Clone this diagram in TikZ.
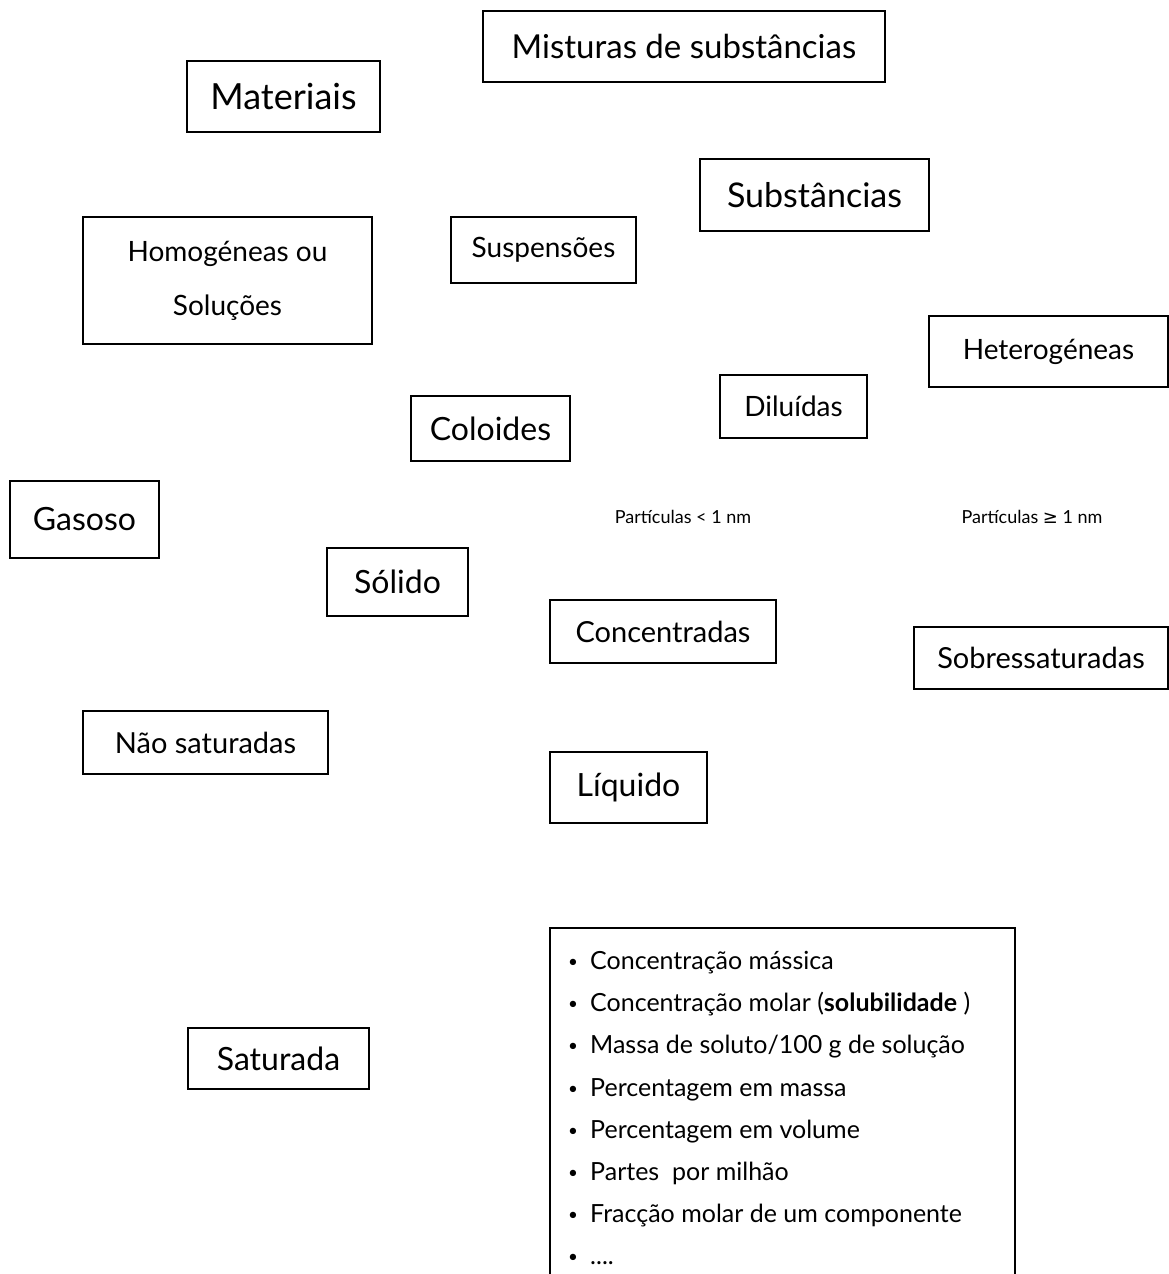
\documentclass[tikz,border=0pt]{standalone}
\usepackage{fontspec}
\setmainfont{Lato}
\newfontfamily\symfont{DejaVu Sans}
\newcommand{\fs}[1]{\fontsize{#1}{#1}\selectfont}
\newcommand{\bul}{\makebox[22pt][l]{\raisebox{2pt}{\fontsize{17}{17}\selectfont •}}}
\begin{document}
\begin{tikzpicture}[x=1pt,y=-1pt,
  bx/.style={draw, line width=1.6pt, inner sep=0pt, align=center},
  lbl/.style={inner sep=0pt}]
\useasboundingbox (0,0) rectangle (1169,1274);
\clip (0,0) rectangle (1169,1274);
\node[bx, minimum width=402, minimum height=71] (mist) at (684,46.5) {\fs{33}Misturas de substâncias};
\node[bx, minimum width=193, minimum height=71] (mat) at (283.5,96.5) {\fs{36}Materiais};
\node[bx, minimum width=229, minimum height=72] (subs) at (814.5,195) {\fs{34}Substâncias};
\node[bx, minimum width=289, minimum height=127, font=\fontsize{28}{54}\selectfont] (homo) at (227.5,280.5) {Homogéneas ou\\ Soluções};
\node[bx, minimum width=185, minimum height=66] (susp) at (543.5,250) {\fs{28}Suspensões};
\node[bx, minimum width=239, minimum height=71] (het) at (1048.5,351.5) {\fs{28}Heterogéneas};
\node[bx, minimum width=147, minimum height=63] (dil) at (793.5,406.5) {\fs{28}Diluídas};
\node[bx, minimum width=159, minimum height=65] (col) at (490.5,428.5) {\fs{32}Coloides};
\node[bx, minimum width=149, minimum height=77] (gas) at (84.5,519.5) {\fs{32}Gasoso};
\node[bx, minimum width=141, minimum height=68] (sol) at (397.5,582) {\fs{32}Sólido};
\node[bx, minimum width=226, minimum height=63] (conc) at (663,631.5) {\fs{29}Concentradas};
\node[bx, minimum width=254, minimum height=62] (sobre) at (1041,658) {\fs{29}Sobressaturadas};
\node[bx, minimum width=245, minimum height=63] (nao) at (205.5,742.5) {\fs{29}Não saturadas};
\node[bx, minimum width=157, minimum height=71] (liq) at (628.5,787.5) {\fs{32}Líquido};
\node[bx, minimum width=181, minimum height=61] (satur) at (278.5,1058.5) {\fs{32}Saturada};
\node[lbl] (pmenor) at (683,517) {\fs{18}Partículas < 1 nm};
\node[lbl] (pmaior) at (1032,517) {\fs{18}Partículas {\symfont ≥} 1 nm};
\node[bx, minimum width=465, minimum height=372] (lista) at (782.5,1114) {};
\node[lbl, anchor=north west, align=left, font=\fontsize{25}{42.2}\selectfont] (listatxt) at (568,951)
 {\bul Concentração mássica\\
 \bul Concentração molar (\textbf{solubilidade} )\\
 \bul Massa de soluto/100 g de solução\\
 \bul Percentagem em massa\\
 \bul Percentagem em volume\\
 \bul Partes\ \ por milhão\\
 \bul Fracção molar de um componente\\
 \bul ....};
\end{tikzpicture}
\end{document}
